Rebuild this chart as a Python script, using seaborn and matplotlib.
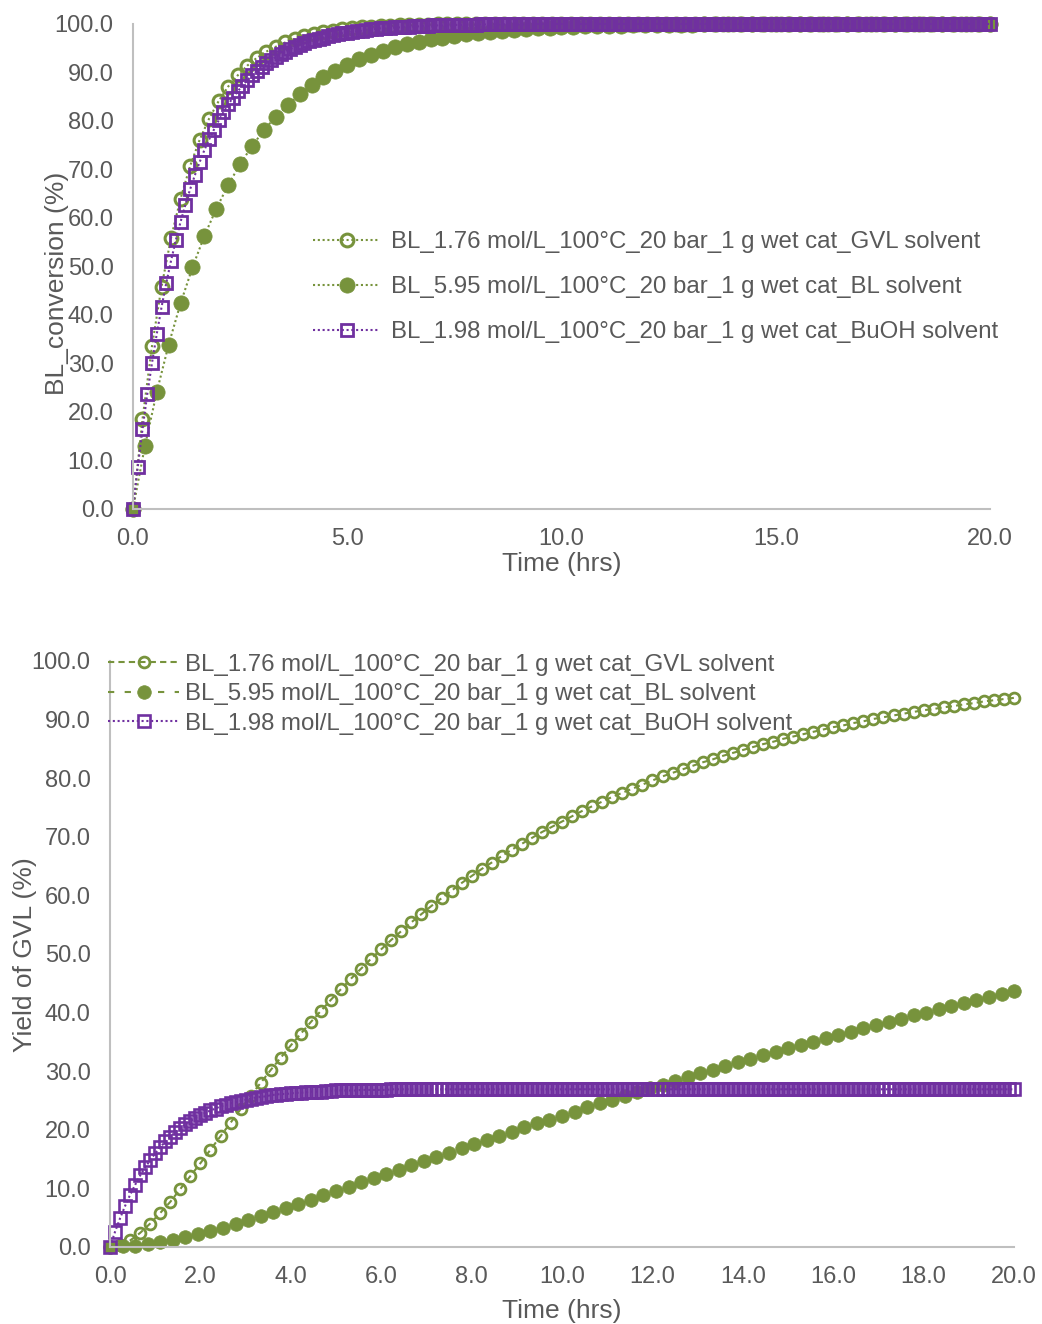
import matplotlib
matplotlib.use("Agg")
import matplotlib.pyplot as plt
import seaborn as sns
import numpy as np

# series labels
label_gvl = "BL_1.76 mol/L_100°C_20 bar_1 g wet cat_GVL solvent"
label_bl = "BL_5.95 mol/L_100°C_20 bar_1 g wet cat_BL solvent"
label_buoh = "BL_1.98 mol/L_100°C_20 bar_1 g wet cat_BuOH solvent"

# BL conversion (%) - top chart
conv_gvl = [
    0.0, 18.5, 33.6, 45.8, 55.9, 64.0, 70.7, 76.1, 80.5, 84.1,
    87.1, 89.4, 91.4, 93.0, 94.3, 95.3, 96.2, 96.9, 97.5, 97.9,
    98.3, 98.6, 98.9, 99.1, 99.3, 99.4, 99.5, 99.6, 99.7, 99.7,
    99.8, 99.8, 99.9, 99.9, 99.9, 99.9, 99.9,
    100.0, 100.0, 100.0, 100.0, 100.0, 100.0, 100.0, 100.0, 100.0,
    100.0, 100.0, 100.0, 100.0, 100.0, 100.0, 100.0, 100.0, 100.0,
    100.0, 100.0, 100.0, 100.0, 100.0, 100.0, 100.0, 100.0, 100.0,
    100.0, 100.0, 100.0, 100.0, 100.0, 100.0, 100.0, 100.0, 100.0,
    100.0, 100.0, 100.0, 100.0, 100.0, 100.0, 100.0, 100.0, 100.0,
    100.0, 100.0, 100.0, 100.0, 100.0, 100.0, 100.0, 100.0, 100.0,
]
conv_bl = [
    0.0, 12.9, 24.1, 33.9, 42.4, 49.8, 56.3, 61.9, 66.8, 71.1,
    74.8, 78.1, 80.9, 83.3, 85.5, 87.4, 89.0, 90.4, 91.6, 92.7,
    93.7, 94.5, 95.2, 95.8, 96.3, 96.8, 97.2, 97.6, 97.9, 98.2,
    98.4, 98.6, 98.8, 98.9, 99.1, 99.2, 99.3, 99.4, 99.5, 99.5,
    99.6, 99.6, 99.7, 99.7, 99.8, 99.8, 99.8, 99.8, 99.9, 99.9,
    99.9, 99.9, 99.9, 99.9, 99.9, 99.9,
    100.0, 100.0, 100.0, 100.0, 100.0, 100.0, 100.0, 100.0, 100.0,
    100.0, 100.0, 100.0, 100.0, 100.0, 100.0, 100.0, 100.0,
]
conv_buoh = [
    0.0, 8.6, 16.4, 23.6, 30.1, 36.1, 41.6, 46.6, 51.2, 55.4,
    59.2, 62.7, 65.9, 68.8, 71.5, 74.0, 76.2, 78.2, 80.1, 81.8,
    83.4, 84.8, 86.1, 87.3, 88.4, 89.4, 90.3, 91.1, 91.9, 92.6,
    93.2, 93.8, 94.3, 94.8, 95.3, 95.7, 96.0, 96.4, 96.7, 97.0,
    97.2, 97.5, 97.7, 97.9, 98.1, 98.2, 98.4, 98.5, 98.6, 98.8,
    98.9, 99.0, 99.1, 99.1, 99.2, 99.3, 99.3, 99.4, 99.4, 99.5,
    99.5, 99.6, 99.6, 99.7, 99.7, 99.7, 99.7, 99.8, 99.8, 99.8,
    99.8, 99.8, 99.8, 99.9, 99.9, 99.9, 99.9, 99.9, 99.9, 99.9,
    99.9, 99.9, 99.9, 99.9, 99.9,
    100.0, 100.0, 100.0, 100.0, 100.0, 100.0, 100.0, 100.0, 100.0, 100.0, 100.0, 100.0,
    100.0, 100.0, 100.0, 100.0, 100.0, 100.0, 100.0, 100.0, 100.0, 100.0, 100.0, 100.0,
    100.0, 100.0, 100.0, 100.0, 100.0, 100.0, 100.0, 100.0, 100.0, 100.0, 100.0, 100.0,
    100.0, 100.0, 100.0, 100.0, 100.0, 100.0, 100.0, 100.0, 100.0, 100.0, 100.0, 100.0,
    100.0, 100.0, 100.0, 100.0, 100.0, 100.0, 100.0, 100.0, 100.0, 100.0, 100.0, 100.0,
    100.0, 100.0, 100.0, 100.0, 100.0, 100.0, 100.0, 100.0, 100.0, 100.0, 100.0, 100.0,
    100.0, 100.0, 100.0, 100.0, 100.0, 100.0, 100.0, 100.0, 100.0, 100.0, 100.0, 100.0,
    100.0, 100.0, 100.0, 100.0, 100.0, 100.0, 100.0, 100.0, 100.0, 100.0, 100.0, 100.0,
]

# Yield of GVL (%) - bottom chart
yield_gvl = [
    0.0, 0.3, 1.1, 2.4, 4.0, 5.8, 7.7, 9.9, 12.1, 14.3,
    16.6, 18.9, 21.2, 23.5, 25.8, 28.0, 30.2, 32.3, 34.4, 36.4,
    38.4, 40.3, 42.2, 44.0, 45.8, 47.5, 49.2, 50.8, 52.4, 53.9,
    55.4, 56.8, 58.2, 59.5, 60.8, 62.1, 63.3, 64.5, 65.6, 66.7,
    67.8, 68.8, 69.8, 70.8, 71.7, 72.6, 73.5, 74.4, 75.2, 76.0,
    76.8, 77.5, 78.2, 78.9, 79.6, 80.3, 80.9, 81.5, 82.1, 82.7,
    83.2, 83.8, 84.3, 84.8, 85.3, 85.8, 86.2, 86.7, 87.1, 87.5,
    87.9, 88.3, 88.7, 89.0, 89.4, 89.7, 90.1, 90.4, 90.7, 91.0,
    91.3, 91.6, 91.8, 92.1, 92.3, 92.6, 92.8, 93.1, 93.3, 93.5,
    93.7,
]
yield_bl = [
    0.0, 0.1, 0.2, 0.5, 0.8, 1.2, 1.7, 2.2, 2.7, 3.3,
    3.9, 4.6, 5.2, 5.9, 6.6, 7.3, 8.0, 8.8, 9.5, 10.2,
    11.0, 11.7, 12.4, 13.2, 13.9, 14.6, 15.4, 16.1, 16.8, 17.5,
    18.2, 19.0, 19.7, 20.4, 21.1, 21.7, 22.4, 23.1, 23.8, 24.5,
    25.1, 25.8, 26.4, 27.1, 27.7, 28.4, 29.0, 29.6, 30.2, 30.9,
    31.5, 32.1, 32.7, 33.3, 33.9, 34.4, 35.0, 35.6, 36.2, 36.7,
    37.3, 37.9, 38.4, 38.9, 39.5, 40.0, 40.6, 41.1, 41.6, 42.1,
    42.6, 43.1, 43.6,
]
yield_buoh = [
    0.0, 2.6, 4.9, 7.0, 8.9, 10.6, 12.2, 13.6, 14.8, 16.0,
    17.0, 18.0, 18.8, 19.6, 20.3, 20.9, 21.5, 22.0, 22.5, 22.9,
    23.3, 23.6, 24.0, 24.2, 24.5, 24.7, 24.9, 25.1, 25.3, 25.5,
    25.6, 25.7, 25.9, 26.0, 26.1, 26.1, 26.2, 26.3, 26.3, 26.4,
    26.5, 26.5, 26.5, 26.6, 26.6, 26.7, 26.7, 26.7, 26.7, 26.7,
    26.8, 26.8, 26.8, 26.8, 26.8, 26.8, 26.9, 26.9, 26.9, 26.9,
    26.9, 26.9, 26.9, 26.9, 26.9, 26.9, 26.9, 26.9, 26.9, 26.9, 26.9,
    26.9, 26.9, 26.9, 26.9, 26.9, 26.9, 26.9, 26.9, 26.9, 26.9, 26.9,
    26.9, 26.9, 26.9, 26.9, 26.9, 26.9, 26.9, 26.9, 26.9, 26.9, 26.9,
    26.9, 26.9, 26.9, 26.9, 26.9, 26.9, 26.9, 26.9, 26.9, 26.9, 26.9,
    26.9, 26.9, 26.9, 26.9, 26.9, 26.9, 26.9, 26.9, 26.9, 26.9, 26.9,
    26.9, 26.9, 26.9, 26.9, 26.9, 26.9, 26.9, 26.9, 26.9, 26.9, 26.9,
    26.9, 26.9, 26.9, 26.9, 26.9, 26.9, 26.9, 26.9, 26.9, 26.9, 26.9,
    26.9, 26.9, 26.9, 26.9, 26.9, 26.9, 26.9, 26.9, 26.9, 26.9, 26.9,
    26.9, 26.9, 26.9, 26.9, 26.9, 26.9, 26.9, 26.9, 26.9, 26.9, 26.9,
    26.9, 26.9, 26.9, 26.9, 26.9, 26.9, 26.9, 26.9, 26.9, 26.9, 26.9,
    26.9, 26.9, 26.9, 26.9, 26.9, 26.9, 26.9, 26.9, 26.9, 26.9, 26.9,
]

# sampling times (hrs): every 800 s, 1000 s and 400 s up to 20 h
time_gvl = np.linspace(0, 20, len(conv_gvl))
time_bl = np.linspace(0, 20, len(conv_bl))
time_buoh = np.linspace(0, 20, len(conv_buoh))

sns.set_style("white")
plt.rcParams['font.family'] = ['Liberation Sans', 'DejaVu Sans']

green = '#77933C'
purple = '#7030A0'
txt = '#595959'
axgrey = '#BFBFBF'


def draw(ax, t, y, color, marker, filled, ls, lw, ms, mew, label):
    sns.lineplot(x=t, y=y, ax=ax, color=color, marker=marker, markersize=ms,
                 markerfacecolor=color if filled else 'none',
                 markeredgecolor=color, markeredgewidth=mew,
                 linestyle=ls, linewidth=lw, label=label,
                 errorbar=None, legend=False, clip_on=False)


def style(ax, xticks):
    ax.set_xlim(0, 20)
    ax.set_ylim(0, 100)
    ax.set_xticks(xticks)
    ax.set_yticks(range(0, 101, 10))
    ax.set_xticklabels([f"{v:.1f}" for v in xticks])
    ax.set_yticklabels([f"{v:.1f}" for v in range(0, 101, 10)])
    for s in ['top', 'right']:
        ax.spines[s].set_visible(False)
    for s in ['left', 'bottom']:
        ax.spines[s].set_color(axgrey)
        ax.spines[s].set_linewidth(1.5)
    ax.tick_params(axis='both', length=0, labelsize=17, colors=txt)
    ax.tick_params(axis='x', pad=14)
    ax.tick_params(axis='y', pad=14)


fig = plt.figure(figsize=(10.42, 13.24), dpi=100)
ax1 = fig.add_axes([0.1276, 0.6156, 0.8225, 0.3663])
ax2 = fig.add_axes([0.1056, 0.0582, 0.8676, 0.4426])

# top: conversion
dot = (0, (1, 1.3))
draw(ax1, time_gvl, conv_gvl, green, 'o', False, dot, 1.5, 9.2, 2.2, label_gvl)
draw(ax1, time_bl, conv_bl, green, 'o', True, dot, 1.5, 11.0, 0.5, label_bl)
draw(ax1, time_buoh, conv_buoh, purple, 's', False, dot, 1.5, 9.0, 2.0, label_buoh)
style(ax1, [0, 5, 10, 15, 20])
ax1.set_xlabel("Time (hrs)", fontsize=19, color=txt, labelpad=1)
ax1.set_ylabel("BL_conversion (%)", fontsize=19, color=txt, va='center')
ax1.yaxis.set_label_coords(-0.0887, 0.465)
ax1.legend(loc='upper left', bbox_to_anchor=(0.21, 0.573), frameon=False,
           fontsize=17.3, labelcolor=txt, handlelength=2.8, handletextpad=0.45,
           labelspacing=0.96, borderpad=0, borderaxespad=0)

# bottom: yield
draw(ax2, time_gvl, yield_gvl, green, 'o', False, (0, (3, 2)), 1.5, 7.8, 2.0, label_gvl)
draw(ax2, time_bl, yield_bl, green, 'o', True, (0, (3, 5)), 1.5, 9.8, 0.5, label_bl)
draw(ax2, time_buoh, yield_buoh, purple, 's', False, dot, 1.5, 8.8, 1.9, label_buoh)
style(ax2, list(range(0, 21, 2)))
ax2.set_xlabel("Time (hrs)", fontsize=19, color=txt, labelpad=8)
ax2.set_ylabel("Yield of GVL (%)", fontsize=19, color=txt, va='center')
ax2.yaxis.set_label_coords(-0.094, 0.498)
ax2.legend(loc='upper left', bbox_to_anchor=(-0.002, 1.012), frameon=False,
           fontsize=17.3, labelcolor=txt, handlelength=2.95, handletextpad=0.25,
           labelspacing=0.31, borderpad=0, borderaxespad=0)

fig.savefig("out.png", dpi=100)
